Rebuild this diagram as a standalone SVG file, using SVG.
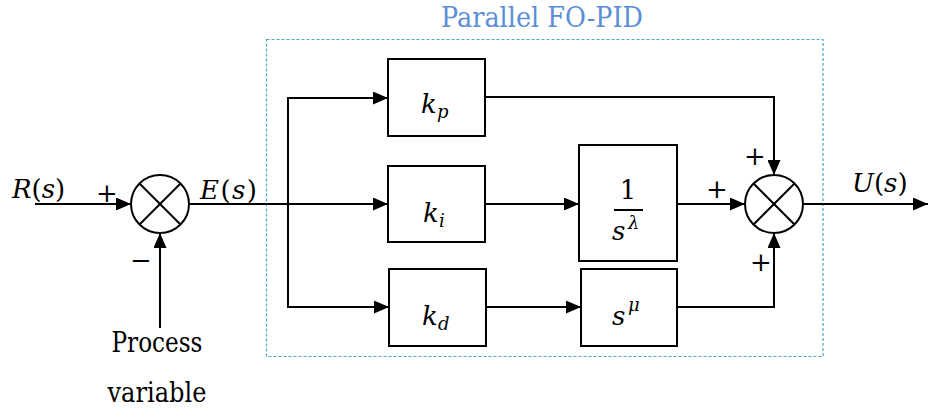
<svg xmlns="http://www.w3.org/2000/svg" width="928" height="410" viewBox="0 0 928 410">
  <defs>
    <marker id="arr" markerUnits="userSpaceOnUse" markerWidth="15" markerHeight="13" refX="15" refY="6.5" orient="auto">
      <path d="M0,0 L15,6.5 L0,13 z" fill="#000"/>
    </marker>
    <style>
      .ln { fill: none; stroke: #000; stroke-width: 2; }
      .blk { fill: #fff; stroke: #000; stroke-width: 2; }
      .sum { fill: #fff; stroke: #000; stroke-width: 2; }
      .m { font-family: 'DejaVu Serif', serif; font-style: italic; font-size: 26px; fill: #000; }
      .up { font-style: normal; }
      .sub { font-family: 'DejaVu Serif', serif; font-style: italic; font-size: 18px; fill: #000; }
      .sgn { font-family: 'DejaVu Serif', serif; font-size: 26px; fill: #000; text-anchor: middle; }
      .txt { font-family: 'DejaVu Serif', serif; font-size: 27px; fill: #000; text-anchor: middle; }
      .ttl { font-family: 'DejaVu Serif', serif; font-size: 27px; fill: #5B8ED5; text-anchor: middle; }
    </style>
  </defs>

  <g id="frame">
    <rect x="266.5" y="39.5" width="556.5" height="317" fill="none" stroke="#4BACC6" stroke-width="1.2" stroke-dasharray="3,2"/>
    <text class="ttl" x="542" y="27" textLength="202" lengthAdjust="spacingAndGlyphs">Parallel FO-PID</text>
  </g>

  <g id="connectors">
    <line class="ln" x1="35" y1="204" x2="131" y2="204" marker-end="url(#arr)"/>
    <line class="ln" x1="160" y1="328" x2="160" y2="233" marker-end="url(#arr)"/>
    <line class="ln" x1="189" y1="204" x2="388" y2="204" marker-end="url(#arr)"/>
    <line class="ln" x1="288" y1="97" x2="288" y2="308"/>
    <line class="ln" x1="287" y1="98" x2="388" y2="98" marker-end="url(#arr)"/>
    <line class="ln" x1="287" y1="307" x2="389" y2="307" marker-end="url(#arr)"/>
    <polyline class="ln" points="485,97 774,97 774,175" marker-end="url(#arr)"/>
    <line class="ln" x1="485" y1="204" x2="579" y2="204" marker-end="url(#arr)"/>
    <line class="ln" x1="486" y1="307" x2="581" y2="307" marker-end="url(#arr)"/>
    <line class="ln" x1="677" y1="204" x2="745" y2="204" marker-end="url(#arr)"/>
    <polyline class="ln" points="677,307 774,307 774,233" marker-end="url(#arr)"/>
    <line class="ln" x1="803" y1="204" x2="928" y2="204" marker-end="url(#arr)"/>
  </g>

  <g id="sum1">
    <circle class="sum" cx="160" cy="204" r="29"/>
    <path class="ln" d="M139.5,183.5 L180.5,224.5 M180.5,183.5 L139.5,224.5"/>
    <text class="sgn" x="107" y="202">+</text>
    <text class="sgn" x="141" y="269">−</text>
  </g>

  <g id="sum2">
    <circle class="sum" cx="774" cy="204" r="29"/>
    <path class="ln" d="M753.5,183.5 L794.5,224.5 M794.5,183.5 L753.5,224.5"/>
    <text class="sgn" x="755" y="165">+</text>
    <text class="sgn" x="717" y="198">+</text>
    <text class="sgn" x="761" y="271">+</text>
  </g>

  <g id="kp">
    <rect class="blk" x="388" y="59" width="97" height="77"/>
    <text class="m" x="421" y="113">k</text>
    <text class="sub" x="437" y="118">p</text>
  </g>

  <g id="ki">
    <rect class="blk" x="388" y="166" width="97" height="76"/>
    <text class="m" x="423" y="222">k</text>
    <text class="sub" x="439" y="227">i</text>
  </g>

  <g id="kd">
    <rect class="blk" x="389" y="269" width="97" height="77"/>
    <text class="m" x="422" y="325">k</text>
    <text class="sub" x="438" y="330">d</text>
  </g>

  <g id="integ">
    <rect class="blk" x="579" y="145" width="98" height="116"/>
    <text class="m up" x="628" y="199" text-anchor="middle">1</text>
    <line class="ln" x1="614" y1="210" x2="643" y2="210"/>
    <text class="m" x="612" y="240">s</text>
    <text class="sub" x="628" y="229">λ</text>
  </g>

  <g id="deriv">
    <rect class="blk" x="581" y="269" width="96" height="77"/>
    <text class="m" x="612" y="325">s</text>
    <text class="sub" x="628" y="311">μ</text>
  </g>

  <g id="labels">
    <text class="m" x="12" y="198">R<tspan class="up">(</tspan>s<tspan class="up">)</tspan></text>
    <text class="m" x="200" y="199" textLength="57" lengthAdjust="spacing">E<tspan class="up">(</tspan>s<tspan class="up">)</tspan></text>
    <text class="m" x="852" y="192">U<tspan class="up">(</tspan>s<tspan class="up">)</tspan></text>
    <text class="txt" x="157" y="352" textLength="91" lengthAdjust="spacingAndGlyphs">Process</text>
    <text class="txt" x="157" y="402" textLength="99" lengthAdjust="spacingAndGlyphs">variable</text>
  </g>
</svg>
